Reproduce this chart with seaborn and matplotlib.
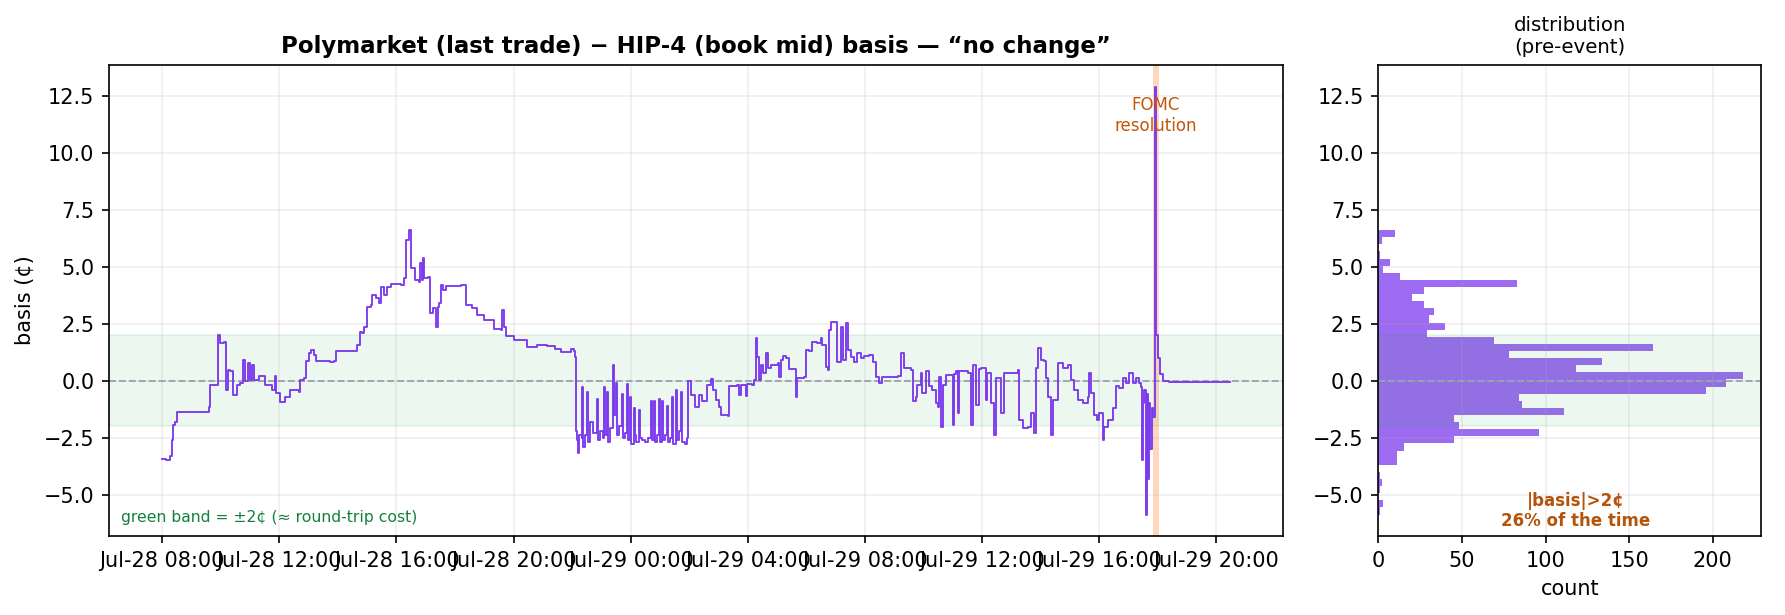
import pandas as pd
import numpy as np
import matplotlib
matplotlib.use("Agg")
import matplotlib.pyplot as plt
import matplotlib.dates as mdates
import seaborn as sns

# hours after Jul-28 08:00 and the basis (cents)
hours = [
    0.00, 0.12, 0.26, 0.28, 0.31, 0.33, 0.38, 0.45, 0.52, 1.53, 1.59, 1.63, 1.88, 1.89, 1.96,
    2.10, 2.16, 2.24, 2.32, 2.42, 2.54, 2.65, 2.77, 2.83, 2.92, 3.00, 3.06, 3.15, 3.29, 3.52,
    3.75, 3.84, 3.88, 4.03, 4.20, 4.38, 4.66, 4.72, 4.83, 4.92, 5.00, 5.08, 5.17, 5.26, 5.74,
    5.86, 5.92, 6.54, 6.66, 6.75, 6.83, 6.89, 6.98, 7.12, 7.17, 7.29, 7.40, 7.48, 7.57, 7.68,
    7.80, 8.14, 8.25, 8.31, 8.42, 8.50, 8.62, 8.76, 8.82, 8.86, 8.90, 8.95, 9.09, 9.15, 9.26,
    9.35, 9.41, 9.46, 9.52, 9.60, 9.70, 10.20, 10.36, 10.59, 10.76, 10.99, 11.33, 11.56, 11.61,
    11.66, 11.73, 12.01, 12.47, 12.80, 13.15, 13.40, 13.61, 13.95, 14.05, 14.09,
    14.12, 14.16, 14.20, 14.25, 14.33, 14.35, 14.38, 14.45, 14.52, 14.55, 14.62, 14.70, 14.84,
    14.87, 14.95, 15.05, 15.09, 15.12, 15.20, 15.23, 15.30, 15.41, 15.44, 15.49, 15.52, 15.60,
    15.71, 15.74, 15.80, 15.88, 15.91, 15.98, 16.01, 16.11, 16.14, 16.20, 16.28, 16.31, 16.40,
    16.50, 16.60, 16.70, 16.73, 16.80, 16.83, 16.90, 16.97, 17.00, 17.08, 17.11, 17.18, 17.25,
    17.28, 17.35, 17.42, 17.45, 17.54, 17.57, 17.65, 17.71, 17.74, 17.85, 17.94,
    17.96, 18.05, 18.20, 18.34, 18.45, 18.62, 18.74, 18.82, 18.91, 19.02, 19.08, 19.31, 19.36,
    19.65, 19.70, 19.76, 19.93, 19.99, 20.16, 20.22, 20.27, 20.33, 20.39, 20.45, 20.51, 20.62,
    20.68, 20.79, 21.02, 21.08, 21.13, 21.19, 21.30, 21.41, 21.58, 21.64, 21.70, 21.93, 21.98,
    22.10, 22.21, 22.38, 22.49, 22.55, 22.67, 22.75, 22.78, 22.84, 23.01, 23.04, 23.18, 23.24,
    23.35, 23.41, 23.52, 23.63, 23.75, 23.86, 23.98, 24.15, 24.27, 24.38, 24.49, 24.60, 25.12,
    25.25, 25.34, 25.57, 25.63, 25.74, 25.80, 25.91, 25.97, 26.08, 26.20, 26.31, 26.43, 26.51,
    26.54, 26.60, 26.66, 26.77, 26.90, 27.00, 27.05, 27.11, 27.17, 27.22, 27.51, 27.62, 27.68,
    27.79, 27.90, 27.97, 28.14, 28.19, 28.31, 28.40, 28.48, 28.65, 28.77, 29.00, 29.22, 29.28,
    29.39, 29.56, 29.68, 29.79, 29.85, 29.93, 30.02, 30.13, 30.19, 30.25, 30.36, 30.42, 30.59,
    30.76, 30.93, 31.05, 31.16, 31.27, 31.44, 31.61, 31.67, 31.73, 31.84, 31.95, 32.01, 32.13,
    32.18, 32.30, 32.47, 32.58, 32.69, 32.81, 32.92, 33.04, 33.15, 33.26, 33.38,
    33.45, 33.47, 33.50, 33.55, 33.60, 33.63, 33.68, 33.72, 33.76, 33.80, 33.84, 33.90, 33.93,
    33.96, 34.00, 34.10, 34.20, 34.40, 35.50, 36.48,
]
basis = [
    -3.45, -3.50, -3.48, -3.30, -3.32, -2.60, -1.94, -1.80, -1.36, -1.36, -1.14, -0.19, -0.19, 2.02, 1.64,
    1.70, -0.41, 0.47, 0.40, -0.63, -0.19, -0.12, 0.91, -0.04, 0.76, 0.03, 0.68, 0.03, 0.18, -0.19,
    -0.41, 0.18, -0.56, -0.92, -0.71, -0.41, -0.48, 0.03, 0.10, 0.84, 1.20, 1.32, 1.13, 0.84, 0.80,
    0.84, 1.28, 1.28, 1.57, 2.15, 2.08, 2.37, 3.25, 3.32, 3.76, 3.61, 3.39, 4.12, 3.76, 4.12,
    4.23, 4.20, 4.49, 6.17, 6.60, 4.93, 4.42, 4.34, 5.15, 4.42, 5.37, 4.49, 4.54, 2.96, 3.18,
    2.37, 3.25, 3.39, 4.20, 3.98, 4.15, 4.20, 3.32, 3.18, 2.89, 2.67, 2.25, 2.23, 3.10,
    2.37, 1.95, 1.78, 1.49, 1.55, 1.52, 1.40, 1.27, 1.37, 1.30, 1.05,
    -2.20, -2.60, -3.20, -2.40, -2.50, -0.30, -2.90, -2.40, -0.50, -2.70, -1.80, -2.30, -0.80,
    -2.60, -2.20, -2.50, -0.30, -2.40, -0.50, -2.70, -2.10, 0.69, -1.50, -0.10, -2.40, -2.00,
    -0.60, -2.50, -2.30, -0.15, -2.60, -0.70, -2.80, -1.20, -2.40, -2.70, -1.30, -2.50, -2.60,
    -2.70, -2.50, -0.90, -2.60, -0.90, -2.70, -2.40, -0.80, -2.70, -0.90, -2.60, -2.40, -1.10,
    -2.70, -2.50, -0.70, -2.80, -0.40, -2.60, -2.20, -0.50, -2.70, -2.80, -2.50,
    -0.04, -0.63, -1.14, -0.63, -0.90, -0.19, 0.06, -0.41, -0.85, -1.14, -1.50, -1.55, -0.23,
    -0.19, -0.63, -0.19, -0.67, -0.15, -0.19, 0.03, 1.86, 1.05, 0.03, 0.69, 0.32, 1.20,
    0.54, 0.69, 0.76, 0.17, 0.91, 1.08, 0.98, 0.50, 0.50, -0.70, 0.10, 0.17, 1.35,
    1.28, 1.71, 1.64, 1.86, 1.57, 0.61, 0.47, 2.22, 2.59, 2.59, 0.83, 2.37, 0.91,
    2.52, 1.35, 1.05, 0.83, 1.20, 0.98, 1.08, 1.13, 0.83, 0.17, -0.12, 0.17, 0.20,
    1.20, 0.54, 0.47, -0.91, -0.70, -0.19, 0.32, -0.55, 0.40, -0.26, -0.41, -0.99, -1.14,
    0.17, -2.02, -0.20, 0.25, 0.25, -1.95, 0.30, 0.40, -1.43, 0.40, 0.32, -1.95, 0.69,
    -1.07, 0.50, 0.55, -0.85, 0.32, -0.99, -2.39, 0.10, -1.43, 0.32, 0.35, 0.47, -1.73,
    -2.10, -2.02, -1.43, -2.32, 0.55, 1.42, 0.91, 0.84, 0.10, -0.70, -2.39, -0.85, 0.76,
    0.55, 0.69, 0.03, -0.41, -0.85, -0.99, -0.70, 0.32, -0.56, -1.51, -1.73, -1.43, -2.61,
    -2.02, -1.73, -1.20, -0.26, -0.33, 0.10, -0.12, 0.32, -0.12, 0.10, -0.12,
    -0.30, -3.50, -1.00, -0.40, -5.88, -0.60, -4.30, -1.00, -3.00, -1.20, -1.60, -1.00, 12.90,
    2.00, 1.00, 0.30, 0.00, -0.05, -0.06, -0.07,
]

# pre-event histogram: 40 bins between -5.88 and 6.60, counts listed top bin first
hist_lo, hist_hi = -5.88, 6.60
hist_counts_top_down = [
    10, 2, 0, 1, 7, 3, 13, 83, 27, 20, 27, 33, 30, 40, 29, 69, 164, 78, 134, 118,
    218, 208, 196, 84, 86, 111, 45, 48, 96, 45, 15, 11, 11, 0, 1, 2, 1, 0, 3, 1,
]

fomc_hour = 33.95
start = pd.Timestamp("2025-07-28 08:00")

times = start + pd.to_timedelta(hours, unit="h")
df = pd.DataFrame({"time": times, "basis": basis})

n_bins = len(hist_counts_top_down)
edges = np.linspace(hist_lo, hist_hi, n_bins + 1)
centers = (edges[:-1] + edges[1:]) / 2
hist_df = pd.DataFrame({"basis": centers, "count": hist_counts_top_down[::-1]})

purple = "#7c3aed"
green = "#16a34a"
orange = "#b45309"

fig, (ax, axh) = plt.subplots(1, 2, figsize=(11.9, 4.1), dpi=150, sharey=True,
                              gridspec_kw={"width_ratios": [3.07, 1]})
fig.subplots_adjust(left=0.061, right=0.9866, bottom=0.1285, top=0.894, wspace=0.122)

# main time series
ax.axhspan(-2, 2, color=green, alpha=0.08)
ax.axhline(0, color="#9ca3af", lw=0.9, ls="--")
sns.lineplot(data=df, x="time", y="basis", ax=ax, color=purple, lw=0.9,
             estimator=None, sort=False, drawstyle="steps-post")
t_fomc = start + pd.Timedelta(hours=fomc_hour)
ax.axvspan(t_fomc - pd.Timedelta(minutes=6), t_fomc + pd.Timedelta(minutes=6),
           color="#f97316", alpha=0.28, lw=0)
ax.text(t_fomc, 12.5, "FOMC\nresolution", color="#c2560c", fontsize=8,
        ha="center", va="top")
ax.text(0.01, 0.03, "green band = \u00b12\u00a2 (\u2248 round-trip cost)", color="#15803d",
        fontsize=7.5, transform=ax.transAxes)
ax.set_title("Polymarket (last trade) \u2212 HIP-4 (book mid) basis \u2014 \u201cno change\u201d",
             fontweight="bold", fontsize=11)
ax.set_ylabel("basis (\u00a2)")
ax.set_xlabel("")
ax.xaxis.set_major_locator(mdates.HourLocator(byhour=range(0, 24, 4)))
ax.xaxis.set_major_formatter(mdates.DateFormatter("%b-%d %H:%M"))
ax.grid(alpha=0.2)

# distribution
sns.histplot(data=hist_df, y="basis", weights="count", bins=n_bins,
             binrange=(hist_lo, hist_hi), ax=axh,
             color=purple, alpha=0.75, linewidth=0)
axh.axhspan(-2, 2, color=green, alpha=0.08)
axh.axhline(0, color="#9ca3af", lw=0.9, ls="--")
axh.tick_params(labelleft=True)
axh.set_title("distribution\n(pre-event)", fontsize=9.5)
axh.set_xlabel("count")
axh.set_ylabel("")
axh.text(0.515, 0.012, "|basis|>2\u00a2\n26% of the time", color=orange, fontsize=8,
         fontweight="bold", ha="center", va="bottom", transform=axh.transAxes)
axh.grid(alpha=0.2)

fig.savefig("out.png", dpi=150)
